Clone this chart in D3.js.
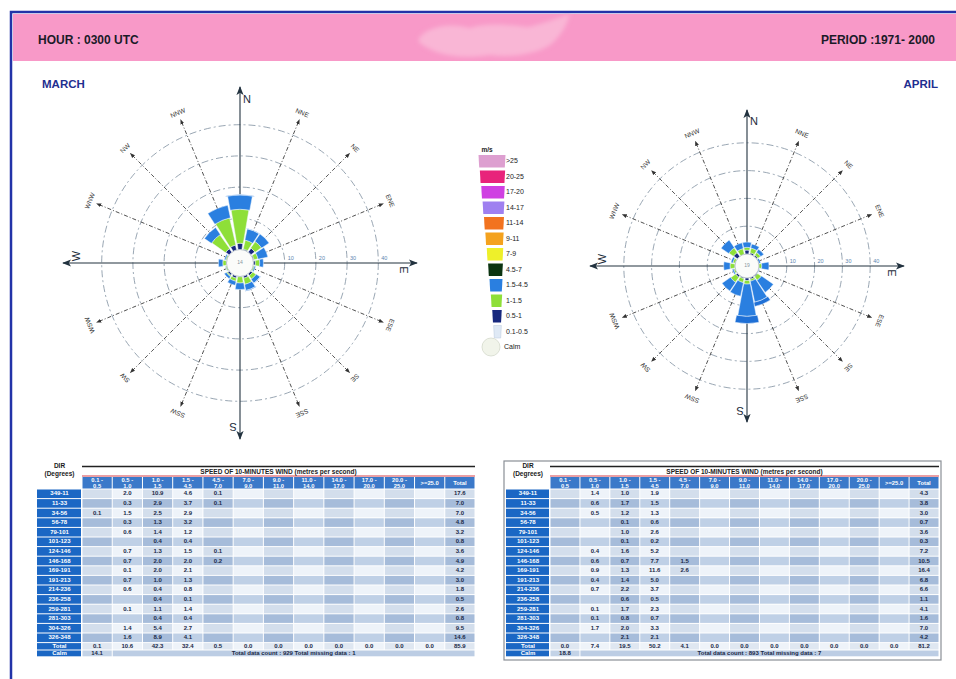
<!DOCTYPE html>
<html>
<head>
<meta charset="utf-8">
<script src="https://cdn.jsdelivr.net/npm/d3@7"></script>
<style>
  body { margin: 0; background: #fff; }
  svg text { font-family: "Liberation Sans", Arial, Helvetica, sans-serif; }
</style>
</head>
<body>
<svg id="chart" width="956" height="679"></svg>
<script>
// ---------- data ----------
const compass = ['N','NNE','NE','ENE','E','ESE','SE','SSE','S','SSW','SW','WSW','W','WNW','NW','NNW'];
const sectorLabels = ['349-11','11-33','34-56','56-78','79-101','101-123','124-146','146-168',
                      '169-191','191-213','214-236','236-258','259-281','281-303','304-326','326-348'];
const speedBands = ['0.1 -|0.5','0.5 -|1.0','1.0 -|1.5','1.5 -|4.5','4.5 -|7.0','7.0 -|9.0',
                    '9.0 -|11.0','11.0 -|14.0','14.0 -|17.0','17.0 -|20.0','20.0 -|25.0','>=25.0'];
const ringTicks = [10, 20, 30, 40];

const legendLabels = ['>25','20-25','17-20','14-17','11-14','9-11','7-9','4.5-7','1.5-4.5','1-1.5','0.5-1','0.1-0.5'];
const legendColors = ['#dd9fd0','#e8237b','#cf40e2','#9f80f0','#f2731f','#f4a21e','#eef02a',
                      '#0b3411','#2a7fe0','#8edf38','#17287e','#dfe9f5'];

// March : % frequency per direction (N ... NNW), one array per speed band
const marchB1 = [0, 0, 0.1, 0, 0, 0, 0, 0, 0, 0, 0, 0, 0, 0, 0, 0];
const marchB2 = [2.0, 0.3, 1.5, 0.3, 0.6, 0, 0.7, 0.7, 0.1, 0.7, 0.6, 0, 0.1, 0, 1.4, 1.6];
const marchB3 = [10.9, 2.9, 2.5, 1.3, 1.4, 0.4, 1.3, 2.0, 2.0, 1.0, 0.4, 0.4, 1.1, 0.4, 5.4, 8.9];
const marchB4 = [4.6, 3.7, 2.9, 3.2, 1.2, 0.4, 1.5, 2.0, 2.1, 1.3, 0.8, 0.1, 1.4, 0.4, 2.7, 4.1];
const marchB5 = [0.1, 0.1, 0, 0, 0, 0, 0.1, 0.2, 0, 0, 0, 0, 0, 0, 0, 0];
const marchCalm = 14.1;
const marchCount = 929, marchMissing = 1;

// April
const aprilB1 = [0, 0, 0, 0, 0, 0, 0, 0, 0, 0, 0, 0, 0, 0, 0, 0];
const aprilB2 = [1.4, 0.6, 0.5, 0, 0, 0, 0.4, 0.6, 0.9, 0.4, 0.7, 0, 0.1, 0.1, 1.7, 0];
const aprilB3 = [1.0, 1.7, 1.2, 0.1, 1.0, 0.1, 1.6, 0.7, 1.3, 1.4, 2.2, 0.6, 1.7, 0.8, 2.0, 2.1];
const aprilB4 = [1.9, 1.5, 1.3, 0.6, 2.6, 0.2, 5.2, 7.7, 11.6, 5.0, 3.7, 0.5, 2.3, 0.7, 3.3, 2.1];
const aprilB5 = [0, 0, 0, 0, 0, 0, 0, 1.5, 2.6, 0, 0, 0, 0, 0, 0, 0];
const aprilCalm = 18.8;
const aprilCount = 893, aprilMissing = 7;

// ---------- page ----------
const svg = d3.select('#chart');
const defs = svg.append('defs');
defs.append('marker').attr('id', 'arrowBig').attr('viewBox', '0 0 10 10')
  .attr('refX', 9).attr('refY', 5).attr('markerWidth', 9).attr('markerHeight', 9)
  .attr('markerUnits', 'userSpaceOnUse').attr('orient', 'auto-start-reverse')
  .append('path').attr('d', 'M0,1 L10,5 L0,9 L2.5,5 z').attr('fill', '#22323f');
defs.append('marker').attr('id', 'arrowSmall').attr('viewBox', '0 0 10 10')
  .attr('refX', 9).attr('refY', 5).attr('markerWidth', 5).attr('markerHeight', 5)
  .attr('markerUnits', 'userSpaceOnUse').attr('orient', 'auto')
  .append('path').attr('d', 'M0,1 L10,5 L0,9 z').attr('fill', '#333');
defs.append('filter').attr('id', 'soft').attr('x', '-20%').attr('y', '-40%').attr('width', '140%').attr('height', '180%')
  .append('feGaussianBlur').attr('stdDeviation', 2.2);

// header band with the soft emblem in its middle
svg.append('rect').attr('x', 13).attr('y', 14).attr('width', 950).attr('height', 47).attr('fill', '#f899c8');
svg.append('path')
  .attr('d', 'M420,37 C428,27 450,22 470,28 C488,22 510,25 528,27 C546,23 558,18 570,14 C566,27 560,37 550,45 C536,54 512,58 490,55 C466,59 442,56 430,49 C421,45 416,41 420,37 Z')
  .attr('fill', '#f9b6d5').attr('filter', 'url(#soft)');
svg.append('rect').attr('x', 11).attr('y', 12).attr('width', 960).attr('height', 700)
  .attr('fill', 'none').attr('stroke', '#2233a8').attr('stroke-width', 2.5);

svg.append('text').attr('x', 38).attr('y', 44).text('HOUR : 0300 UTC')
  .attr('font-size', 12).attr('font-weight', 'bold').attr('fill', '#1b1b28');
svg.append('text').attr('x', 935).attr('y', 44).attr('text-anchor', 'end').text('PERIOD :1971- 2000')
  .attr('font-size', 12).attr('font-weight', 'bold').attr('fill', '#1b1b28');
svg.append('text').attr('x', 42).attr('y', 88).text('MARCH')
  .attr('font-size', 11.5).attr('font-weight', 'bold').attr('fill', '#1f2f90');
svg.append('text').attr('x', 938).attr('y', 88).attr('text-anchor', 'end').text('APRIL')
  .attr('font-size', 11.5).attr('font-weight', 'bold').attr('fill', '#1f2f90');

// ---------- wind rose ----------
// angular half width (degrees) of each speed band's wedge
const bandHalfWidth = [6, 8, 9.5, 10.5, 12];
// on the rose the 4.5-7 band is shaded in the same blue as 1.5-4.5, told apart by its wider wedge
const bandFill = [legendColors[11], legendColors[10], legendColors[9], legendColors[8], '#1f70d6'];

function drawRose(o) {
  const g = svg.append('g').attr('transform', `translate(${o.cx},${o.cy})`);
  const r = d3.scaleLinear().domain([0, 40]).range([o.calmR, o.outerR]);

  g.selectAll('circle.ring').data(ringTicks).join('circle').attr('class', 'ring')
    .attr('r', d => r(d)).attr('fill', 'none').attr('stroke', '#7f8f9f')
    .attr('stroke-width', 0.8).attr('stroke-dasharray', '7,3,2,3');

  const dirs = compass.map((name, i) => ({ name, i, a: i * 22.5 }));
  const spokes = dirs.filter(d => d.a % 90 !== 0);
  const sg = g.selectAll('g.spoke').data(spokes).join('g').attr('class', 'spoke')
    .attr('transform', d => `rotate(${d.a})`);
  sg.append('line').attr('x1', 0).attr('y1', -o.calmR).attr('x2', 0).attr('y2', -o.spokeLen)
    .attr('stroke', '#3a3a3a').attr('stroke-width', 0.8).attr('stroke-dasharray', '4,2,1,2')
    .attr('marker-end', 'url(#arrowSmall)');
  sg.append('text').attr('x', 0).attr('y', -o.spokeLabelR).attr('text-anchor', 'middle')
    .attr('dominant-baseline', 'middle').attr('font-size', 6.5).attr('fill', '#333').text(d => d.name);

  // main compass axes
  g.append('line').attr('x1', -o.axisH).attr('x2', o.axisH).attr('y1', 0).attr('y2', 0)
    .attr('stroke', '#22323f').attr('stroke-width', 1.1)
    .attr('marker-start', 'url(#arrowBig)').attr('marker-end', 'url(#arrowBig)');
  g.append('line').attr('y1', -o.axisV).attr('y2', o.axisV).attr('x1', 0).attr('x2', 0)
    .attr('stroke', '#22323f').attr('stroke-width', 1.1)
    .attr('marker-start', 'url(#arrowBig)').attr('marker-end', 'url(#arrowBig)');
  g.selectAll('text.card').data(dirs.filter(d => d.a % 90 === 0)).join('text').attr('class', 'card')
    .attr('transform', d => `rotate(${d.a}) translate(7,${-o.cardR})`)
    .attr('text-anchor', 'middle').attr('dominant-baseline', 'middle')
    .attr('font-size', 11).attr('fill', '#1d2c3a').text(d => d.name[0]);

  // stacked wedges
  const stacks = [];
  dirs.forEach(d => {
    let cum = 0;
    o.bands.forEach((arr, k) => {
      const v = arr[d.i];
      if (v > 0) stacks.push({ a: d.a, k, r0: cum, r1: cum + v });
      cum += v;
    });
  });
  const rad = Math.PI / 180;
  const arc = d3.arc()
    .innerRadius(d => r(d.r0)).outerRadius(d => r(d.r1))
    .startAngle(d => (d.a - bandHalfWidth[d.k]) * rad)
    .endAngle(d => (d.a + bandHalfWidth[d.k]) * rad);
  g.selectAll('path.seg').data(stacks).join('path').attr('class', 'seg')
    .attr('d', arc).attr('fill', d => bandFill[d.k])
    .attr('stroke', '#eef6ff').attr('stroke-width', 0.5);

  // calm circle
  g.append('circle').attr('r', o.calmR).attr('fill', '#fbfcfa').attr('stroke', '#9aa8b4').attr('stroke-width', 0.6);
  g.append('text').attr('text-anchor', 'middle').attr('dominant-baseline', 'middle')
    .attr('font-size', 5).attr('fill', '#8895a0').text(Math.round(o.calm));

  // ring values along the east axis
  g.selectAll('text.ringlbl').data(ringTicks).join('text').attr('class', 'ringlbl')
    .attr('x', d => r(d) + 6).attr('y', -3).attr('text-anchor', 'middle')
    .attr('font-size', 5.5).attr('fill', '#5c86b0').text(d => d);
}

drawRose({ cx: 240, cy: 263, calmR: 13.5, outerR: 138.3, axisH: 177, axisV: 176,
           spokeLen: 155, spokeLabelR: 162, cardR: 163,
           bands: [marchB1, marchB2, marchB3, marchB4, marchB5], calm: marchCalm });
drawRose({ cx: 747, cy: 266, calmR: 12, outerR: 123.2, axisH: 157, axisV: 156,
           spokeLen: 135, spokeLabelR: 143, cardR: 144,
           bands: [aprilB1, aprilB2, aprilB3, aprilB4, aprilB5], calm: aprilCalm });

// ---------- legend ----------
const lg = svg.append('g');
const ly = d3.scaleLinear().domain([0, 1]).range([155, 170.5]);
const lw = d3.scaleLinear().domain([0, 12]).range([27, 6]);
const lx = d3.scaleLinear().domain([0, 12]).range([492, 498]);
lg.append('text').attr('x', 487).attr('y', 152).attr('text-anchor', 'middle')
  .attr('font-size', 6.5).attr('font-weight', 'bold').attr('fill', '#222').text('m/s');
legendLabels.forEach((lab, i) => {
  const t = ly(i), b = t + 12.5;
  const wt = lw(i), wb = lw(i + 0.8), c = lx(i);
  lg.append('path')
    .attr('d', `M${c - wt / 2},${t} L${c + wt / 2},${t} L${c + wb / 2},${b} L${c - wb / 2},${b} Z`)
    .attr('fill', legendColors[i]).attr('stroke', i === 11 ? '#b8c8dc' : 'none').attr('stroke-width', 0.5);
  lg.append('text').attr('x', 506).attr('y', t + 6.5).attr('dominant-baseline', 'middle')
    .attr('font-size', 7).attr('fill', '#222').text(lab);
});
lg.append('circle').attr('cx', 491).attr('cy', 347).attr('r', 9)
  .attr('fill', '#f1f4ea').attr('stroke', '#d4d9cc').attr('stroke-width', 0.8);
lg.append('text').attr('x', 504).attr('y', 347.5).attr('dominant-baseline', 'middle')
  .attr('font-size', 7).attr('fill', '#222').text('Calm');

// ---------- tables ----------
function drawTable(o) {
  const g = svg.append('g');
  const bands = o.bands;
  const value = (k, i) => (k < bands.length ? bands[k][i] : 0);
  const cols = d3.range(13);
  const x = d3.scaleBand().domain(cols).range([o.dataX0, o.x1]);
  const y = d3.scaleBand().domain(d3.range(16)).range([489, 642.6]);
  const dirCx = (o.x0 + o.dataX0) / 2;
  const bw = x.bandwidth(), rh = y.bandwidth();
  const fmt = v => v.toFixed(1);

  if (o.frame) {
    g.append('rect').attr('x', o.x0 - 2).attr('y', 461).attr('width', o.x1 - o.x0 + 4).attr('height', 199)
      .attr('fill', 'none').attr('stroke', '#8a8f96').attr('stroke-width', 1.2);
  }
  g.append('text').attr('x', dirCx).attr('y', 468).attr('text-anchor', 'middle')
    .attr('font-size', 6.5).attr('font-weight', 'bold').attr('fill', '#1a1a1a').text('DIR');
  g.append('text').attr('x', dirCx).attr('y', 476).attr('text-anchor', 'middle')
    .attr('font-size', 6.5).attr('font-weight', 'bold').attr('fill', '#1a1a1a').text('(Degrees)');
  g.append('line').attr('x1', o.dataX0).attr('x2', o.x1).attr('y1', 466.5).attr('y2', 466.5)
    .attr('stroke', '#222').attr('stroke-width', 1.3);
  g.append('line').attr('x1', o.dataX0).attr('x2', o.x1).attr('y1', 476).attr('y2', 476)
    .attr('stroke', '#d8414a').attr('stroke-width', 1.2);
  g.append('text').attr('x', (o.dataX0 + o.x1) / 2).attr('y', 473.5).attr('text-anchor', 'middle')
    .attr('font-size', 6.5).attr('font-weight', 'bold').attr('fill', '#222')
    .text('SPEED OF 10-MINUTES WIND (metres per second)');

  // column headers
  const heads = speedBands.concat(['Total']);
  cols.forEach(c => {
    g.append('rect').attr('x', x(c) + 0.5).attr('y', 477).attr('width', bw - 1).attr('height', 11.5)
      .attr('fill', '#3b79c9');
    const parts = heads[c].split('|');
    parts.forEach((p, j) => {
      g.append('text').attr('x', x(c) + bw / 2).attr('y', parts.length === 2 ? 482 + j * 5.5 : 485)
        .attr('text-anchor', 'middle').attr('font-size', 5.8).attr('font-weight', 'bold')
        .attr('fill', '#fff').text(p);
    });
  });

  const cellFill = (i, c) => (i % 2 === 0 ? (c % 2 === 0 ? '#d3deec' : '#eef3f9')
                                          : (c % 2 === 0 ? '#a6bcda' : '#bfd0e6'));
  const txt = (xx, yy, s, fill, anchor) => g.append('text').attr('x', xx).attr('y', yy)
    .attr('text-anchor', anchor || 'middle').attr('dominant-baseline', 'middle')
    .attr('font-size', 6).attr('font-weight', 'bold').attr('fill', fill).text(s);

  sectorLabels.forEach((lab, i) => {
    const yy = y(i);
    g.append('rect').attr('x', o.x0).attr('y', yy + 0.5).attr('width', o.dataX0 - o.x0 - 1).attr('height', rh - 1)
      .attr('fill', '#1b67c4');
    txt(dirCx, yy + rh / 2, lab, '#fff');
    let rowSum = 0;
    cols.forEach(c => {
      g.append('rect').attr('x', x(c) + 0.5).attr('y', yy + 0.5).attr('width', bw - 1).attr('height', rh - 1)
        .attr('fill', cellFill(i, c));
      if (c < 12) {
        const v = value(c, i);
        rowSum += v;
        if (v > 0) txt(x(c) + bw / 2, yy + rh / 2, fmt(v), '#1b2a48');
      } else {
        txt(x(c) + bw / 2, yy + rh / 2, fmt(rowSum), '#1b2a48');
      }
    });
  });

  // Total row
  const ty = 642.6, th = 7.4;
  g.append('rect').attr('x', o.x0).attr('y', ty + 0.5).attr('width', o.dataX0 - o.x0 - 1).attr('height', th - 1)
    .attr('fill', '#1b67c4');
  txt(dirCx, ty + th / 2, 'Total', '#fff');
  let grand = 0;
  cols.forEach(c => {
    g.append('rect').attr('x', x(c) + 0.5).attr('y', ty + 0.5).attr('width', bw - 1).attr('height', th - 1)
      .attr('fill', c % 2 === 0 ? '#dfe7f1' : '#eef3f9');
    let s;
    if (c < 12) { s = d3.sum(sectorLabels, (_, i) => value(c, i)); grand += s; }
    else s = grand;
    txt(x(c) + bw / 2, ty + th / 2, fmt(s), '#1b2a48');
  });

  // Calm row
  const cy = ty + th, ch = 6.8;
  g.append('rect').attr('x', o.x0).attr('y', cy + 0.5).attr('width', o.dataX0 - o.x0 - 1).attr('height', ch - 1)
    .attr('fill', '#1b67c4');
  txt(dirCx, cy + ch / 2, 'Calm', '#fff');
  g.append('rect').attr('x', x(0) + 0.5).attr('y', cy + 0.5).attr('width', bw - 1).attr('height', ch - 1)
    .attr('fill', '#c3d3e7');
  txt(x(0) + bw / 2, cy + ch / 2, fmt(o.calm), '#1b2a48');
  g.append('rect').attr('x', x(1) + 0.5).attr('y', cy + 0.5).attr('width', o.x1 - x(1) - 1).attr('height', ch - 1)
    .attr('fill', '#bccde4');
  txt((x(1) + o.x1) / 2, cy + ch / 2,
      `Total data count : ${o.count}    Total missing data : ${o.missing}`, '#1b2a48');
}

drawTable({ x0: 37, dataX0: 82, x1: 475, bands: [marchB1, marchB2, marchB3, marchB4, marchB5],
            calm: marchCalm, count: marchCount, missing: marchMissing, frame: false });
drawTable({ x0: 506, dataX0: 550, x1: 939, bands: [aprilB1, aprilB2, aprilB3, aprilB4, aprilB5],
            calm: aprilCalm, count: aprilCount, missing: aprilMissing, frame: true });
</script>
</body>
</html>
